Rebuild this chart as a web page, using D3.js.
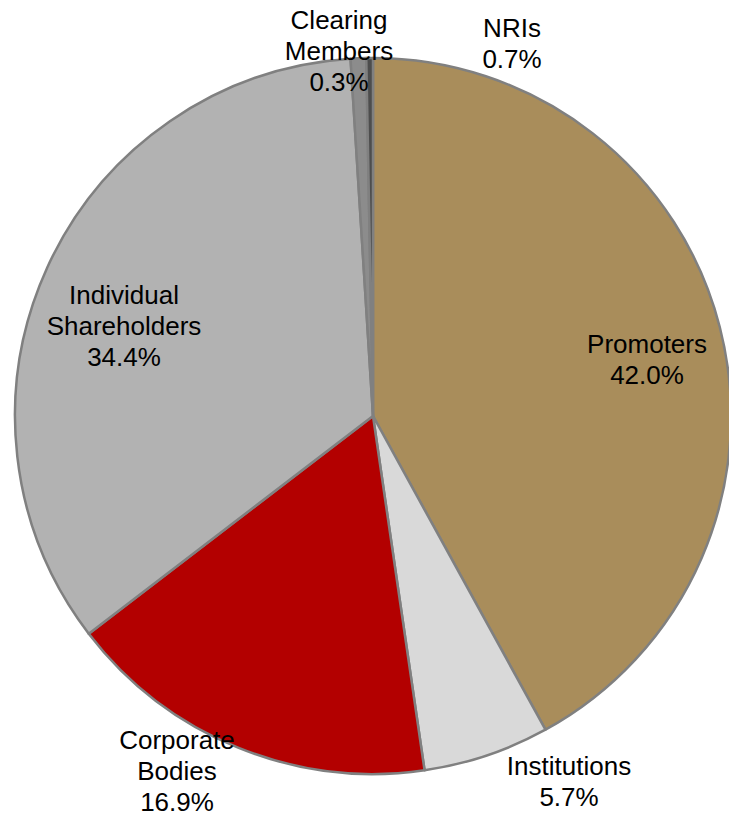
<!DOCTYPE html>
<html>
<head>
<meta charset="utf-8">
<script src="https://cdn.jsdelivr.net/npm/d3@7"></script>
<style>
    body { margin: 0; background: #fff; }
    svg text { font-family: "Liberation Sans", Arial, sans-serif; font-size: 26px; fill: #000; }
</style>
</head>
<body>
<script>
// shareholding pattern, clockwise from 12 o'clock
const categories = ['Promoters', 'Institutions', 'Corporate Bodies', 'Individual Shareholders', 'NRIs', 'Clearing Members'];
const shares = [42.0, 5.7, 16.9, 34.4, 0.7, 0.3];
const labelLines = [
    ['Promoters'],
    ['Institutions'],
    ['Corporate', 'Bodies'],
    ['Individual', 'Shareholders'],
    ['NRIs'],
    ['Clearing', 'Members']
];
const colors = ['#a98d5b', '#d9d9d9', '#b30000', '#b2b2b2', '#8c8c8c', '#4d4d4d'];

const width = 729;
const height = 817;
const cx = 373;
const cy = 416;
const radius = 358;

// label anchor: center x and first baseline y
const labelPos = {
    'Promoters': [647, 353],
    'Institutions': [569, 775],
    'Corporate Bodies': [177, 749],
    'Individual Shareholders': [124, 304],
    'NRIs': [512, 37],
    'Clearing Members': [339, 29]
};
const lineHeight = 31;

const data = categories.map(function(c, i) {
    return {name: c, value: shares[i], lines: labelLines[i], color: colors[i]};
});

const pie = d3.pie()
    .sort(null)
    .value(function(d) { return d.value; });

const arc = d3.arc()
    .innerRadius(0)
    .outerRadius(radius);

const svg = d3.select('body').append('svg')
    .attr('width', width)
    .attr('height', height);

const g = svg.append('g')
    .attr('transform', 'translate(' + cx + ',' + cy + ')');

g.selectAll('.slice')
    .data(pie(data))
    .enter().append('path')
    .attr('class', 'slice')
    .attr('d', arc)
    .attr('fill', function(d) { return d.data.color; })
    .attr('stroke', '#808080')
    .attr('stroke-width', 2.5)
    .attr('stroke-linejoin', 'round');

const labels = svg.selectAll('.lbl')
    .data(data)
    .enter().append('text')
    .attr('class', 'lbl')
    .attr('text-anchor', 'middle')
    .attr('transform', function(d) {
        const p = labelPos[d.name];
        return 'translate(' + p[0] + ',' + p[1] + ')';
    });

labels.selectAll('tspan')
    .data(function(d) {
        return d.lines.concat([d3.format('.1f')(d.value) + '%']);
    })
    .enter().append('tspan')
    .attr('x', 0)
    .attr('y', function(d, i) { return i * lineHeight; })
    .text(function(d) { return d; });
</script>
</body>
</html>
